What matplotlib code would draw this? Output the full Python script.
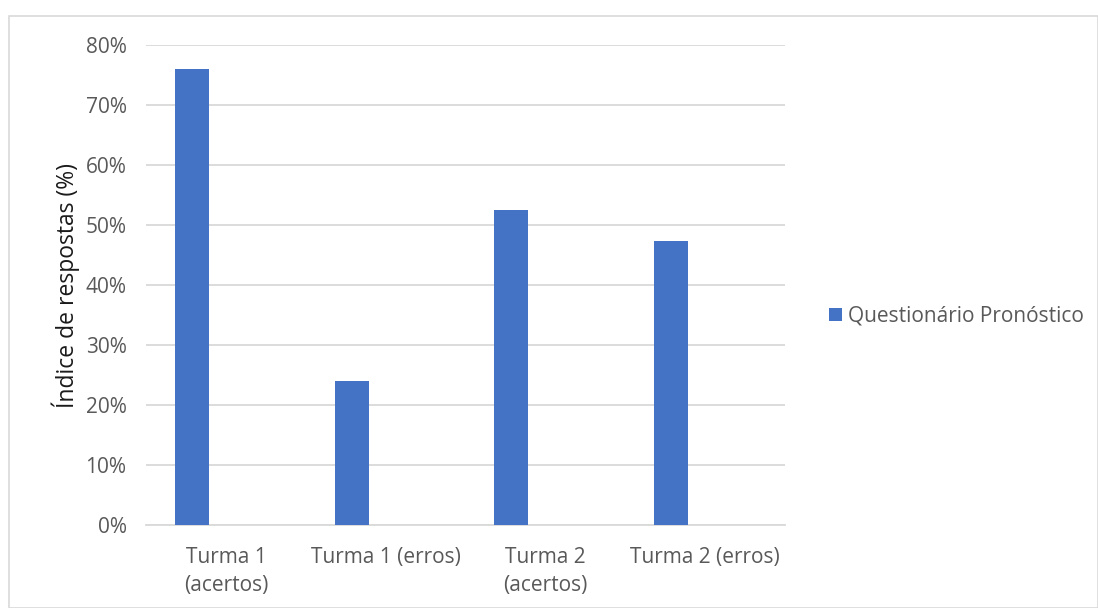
import matplotlib
matplotlib.use("Agg")
import matplotlib.pyplot as plt
from matplotlib.patches import Rectangle
from matplotlib.ticker import FuncFormatter, MultipleLocator

categories = ["Turma 1\n(acertos)", "Turma 1 (erros)", "Turma 2\n(acertos)", "Turma 2 (erros)"]
values = [76.0, 24.0, 52.6, 47.4]
series_name = "Questionário Pronóstico"
y_label = "Índice de respostas (%)"

bar_color = "#4472C4"
grid_color = "#D9D9D9"
text_color = "#595959"

plt.rcParams["font.family"] = ["Open Sans", "DejaVu Sans"]

W, H = 1098, 608
fig = plt.figure(figsize=(W / 100, H / 100), dpi=100)
fig.patch.set_facecolor("white")

# chart-area border
fig.add_artist(Rectangle((9 / W, 0), 1 - 9 / W - 0.5 / W, 1 - 16 / H, transform=fig.transFigure,
                         fill=False, edgecolor="#D9D9D9", linewidth=1.2))

ax = fig.add_axes([146 / W, 1 - 525 / H, (785 - 146) / W, (525 - 45.3) / H])
x = list(range(len(categories)))
width = 0.213
ax.bar([i - width for i in x], values, width=width, color=bar_color, zorder=3, label=series_name)

ax.set_xlim(-0.5, len(categories) - 0.5)
ax.set_ylim(0, 80)
ax.yaxis.set_major_locator(MultipleLocator(10))
ax.yaxis.set_major_formatter(FuncFormatter(lambda v, p: f"{int(round(v))}%"))
ax.grid(axis="y", color=grid_color, linewidth=1.3, zorder=0)
ax.set_axisbelow(True)

for s in ["top", "right", "left"]:
    ax.spines[s].set_visible(False)
ax.spines["bottom"].set_color(grid_color)
ax.spines["bottom"].set_linewidth(1.3)

ax.set_xticks(x)
ax.set_xticklabels(categories, linespacing=1.4)
ax.tick_params(axis="both", length=0, labelsize=15, labelcolor=text_color)
ax.tick_params(axis="x", pad=16)
ax.tick_params(axis="y", pad=14)

ax.set_ylabel(y_label, fontsize=16.5, color="#1a1a1a", labelpad=4)

leg = fig.legend(loc="center left", bbox_to_anchor=(821 / W, 1 - 316 / H), frameon=False,
                 fontsize=15, handlelength=0.6, handleheight=0.6, handletextpad=0.3,
                 borderaxespad=0)
for t in leg.get_texts():
    t.set_color(text_color)

fig.savefig("out.png", dpi=100, facecolor="white")
